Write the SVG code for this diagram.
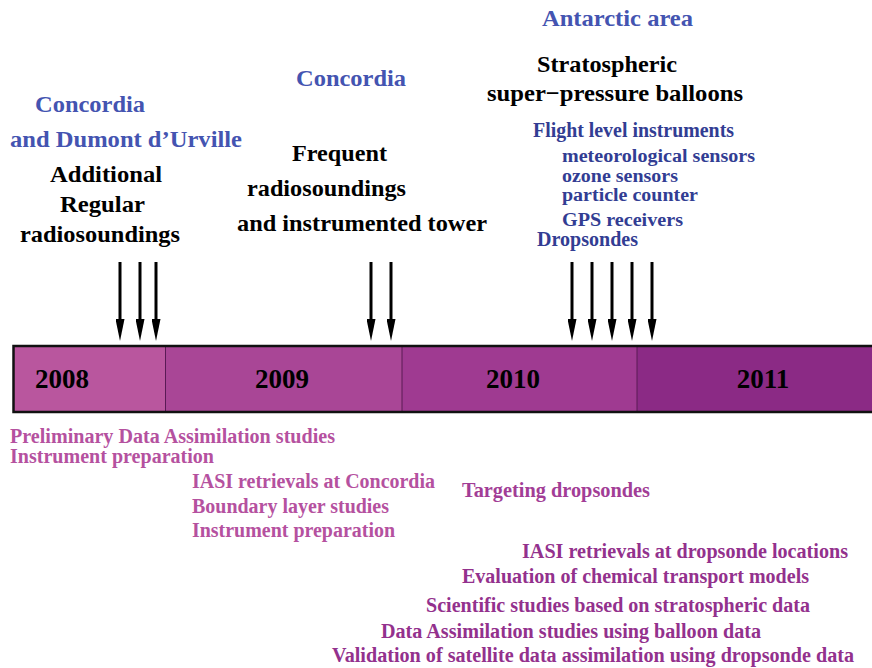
<svg xmlns="http://www.w3.org/2000/svg" width="872" height="668" viewBox="0 0 872 668">
<defs>
<style>
text{font-family:"Liberation Serif","Times New Roman",serif;font-weight:bold}
.site{fill:#4454b1;font-size:24px}
.blk{fill:#000;font-size:24px}
.inst{fill:#323d93;font-size:20px}
.sub{font-size:18.5px}
.yr{fill:#000;font-size:27px;text-anchor:middle}
.pk{fill:#b5519f;font-size:20px}
.pp{fill:#93318d;font-size:20px}
.arr{stroke:#000;stroke-width:3;fill:none;marker-end:url(#ah)}
</style>
<marker id="ah" viewBox="0 0 22 9" refX="0" refY="4.5" markerWidth="22" markerHeight="9" markerUnits="userSpaceOnUse" orient="auto">
<path d="M0,0 L22,4.5 L0,9 Z" fill="#000"/>
</marker>
</defs>
<rect width="872" height="668" fill="#fff"/>

<g id="timeline">
<rect x="13" y="346" width="152" height="66" fill="#b9569e"/>
<rect x="165" y="346" width="237" height="66" fill="#a94696"/>
<rect x="402" y="346" width="235" height="66" fill="#9f3a91"/>
<rect x="637" y="346" width="237" height="66" fill="#8b2a85"/>
<line x1="165.5" y1="346" x2="165.5" y2="412" stroke="#5a1a55" stroke-width="1"/>
<line x1="402" y1="346" x2="402" y2="412" stroke="#5a1a55" stroke-width="1"/>
<line x1="637" y1="346" x2="637" y2="412" stroke="#5a1a55" stroke-width="1"/>
<path d="M874,346 H13.5 V412 H874" fill="none" stroke="#111" stroke-width="2.5"/>
<text class="yr" x="62" y="388">2008</text>
<text class="yr" x="282" y="388">2009</text>
<text class="yr" x="513" y="388">2010</text>
<text class="yr" x="763" y="388">2011</text>
</g>

<g id="connectors">
<line class="arr" x1="120" y1="262" x2="120" y2="319"/>
<line class="arr" x1="140" y1="262" x2="140" y2="319"/>
<line class="arr" x1="156" y1="262" x2="156" y2="319"/>
<line class="arr" x1="371" y1="262" x2="371" y2="319"/>
<line class="arr" x1="391" y1="262" x2="391" y2="319"/>
<line class="arr" x1="572" y1="262" x2="572" y2="319"/>
<line class="arr" x1="592" y1="262" x2="592" y2="319"/>
<line class="arr" x1="612" y1="262" x2="612" y2="319"/>
<line class="arr" x1="632" y1="262" x2="632" y2="319"/>
<line class="arr" x1="652" y1="262" x2="652" y2="319"/>
</g>

<g id="concordia-dumont">
<text class="site" x="35" y="112" textLength="110" lengthAdjust="spacingAndGlyphs">Concordia</text>
<text class="site" x="10" y="147" textLength="232" lengthAdjust="spacingAndGlyphs">and Dumont d’Urville</text>
<text class="blk" x="50" y="182" textLength="112" lengthAdjust="spacingAndGlyphs">Additional</text>
<text class="blk" x="60" y="212" textLength="85" lengthAdjust="spacingAndGlyphs">Regular</text>
<text class="blk" x="20" y="242" textLength="160" lengthAdjust="spacingAndGlyphs">radiosoundings</text>
</g>

<g id="concordia">
<text class="site" x="296" y="86" textLength="110" lengthAdjust="spacingAndGlyphs">Concordia</text>
<text class="blk" x="292" y="161" textLength="95" lengthAdjust="spacingAndGlyphs">Frequent</text>
<text class="blk" x="247" y="196" textLength="159" lengthAdjust="spacingAndGlyphs">radiosoundings</text>
<text class="blk" x="237" y="231" textLength="250" lengthAdjust="spacingAndGlyphs">and instrumented tower</text>
</g>

<g id="antarctic">
<text class="site" x="542" y="26" textLength="151" lengthAdjust="spacingAndGlyphs">Antarctic area</text>
<text class="blk" x="537" y="72" textLength="140" lengthAdjust="spacingAndGlyphs">Stratospheric</text>
<text class="blk" x="487" y="101" textLength="256" lengthAdjust="spacingAndGlyphs">super−pressure balloons</text>
<text class="inst" x="533" y="137" textLength="201" lengthAdjust="spacingAndGlyphs">Flight level instruments</text>
<text class="inst sub" x="562" y="162" textLength="193" lengthAdjust="spacingAndGlyphs">meteorological sensors</text>
<text class="inst sub" x="562" y="182" textLength="116" lengthAdjust="spacingAndGlyphs">ozone sensors</text>
<text class="inst sub" x="562" y="201" textLength="136" lengthAdjust="spacingAndGlyphs">particle counter</text>
<text class="inst sub" x="562" y="226" textLength="121" lengthAdjust="spacingAndGlyphs">GPS receivers</text>
<text class="inst" x="537" y="246" textLength="101" lengthAdjust="spacingAndGlyphs">Dropsondes</text>
</g>

<g id="activities">
<text class="pk" x="10" y="443" textLength="325" lengthAdjust="spacingAndGlyphs">Preliminary Data Assimilation studies</text>
<text class="pk" x="10" y="463" textLength="204" lengthAdjust="spacingAndGlyphs">Instrument preparation</text>
<text class="pk" x="192" y="488" textLength="243" lengthAdjust="spacingAndGlyphs">IASI retrievals at Concordia</text>
<text class="pk" x="192" y="513" textLength="197" lengthAdjust="spacingAndGlyphs">Boundary layer studies</text>
<text class="pk" x="192" y="537" textLength="203" lengthAdjust="spacingAndGlyphs">Instrument preparation</text>
<text class="pp" x="462" y="497" textLength="188" lengthAdjust="spacingAndGlyphs" style="fill:#a23d96">Targeting dropsondes</text>
<text class="pp" x="522" y="558" textLength="326" lengthAdjust="spacingAndGlyphs">IASI retrievals at dropsonde locations</text>
<text class="pp" x="462" y="583" textLength="347" lengthAdjust="spacingAndGlyphs">Evaluation of chemical transport models</text>
<text class="pp" x="426" y="612" textLength="384" lengthAdjust="spacingAndGlyphs">Scientific studies based on stratospheric data</text>
<text class="pp" x="381" y="638" textLength="380" lengthAdjust="spacingAndGlyphs">Data Assimilation studies using balloon data</text>
<text class="pp" x="332" y="662" textLength="522" lengthAdjust="spacingAndGlyphs">Validation of satellite data assimilation using dropsonde data</text>
</g>
</svg>
